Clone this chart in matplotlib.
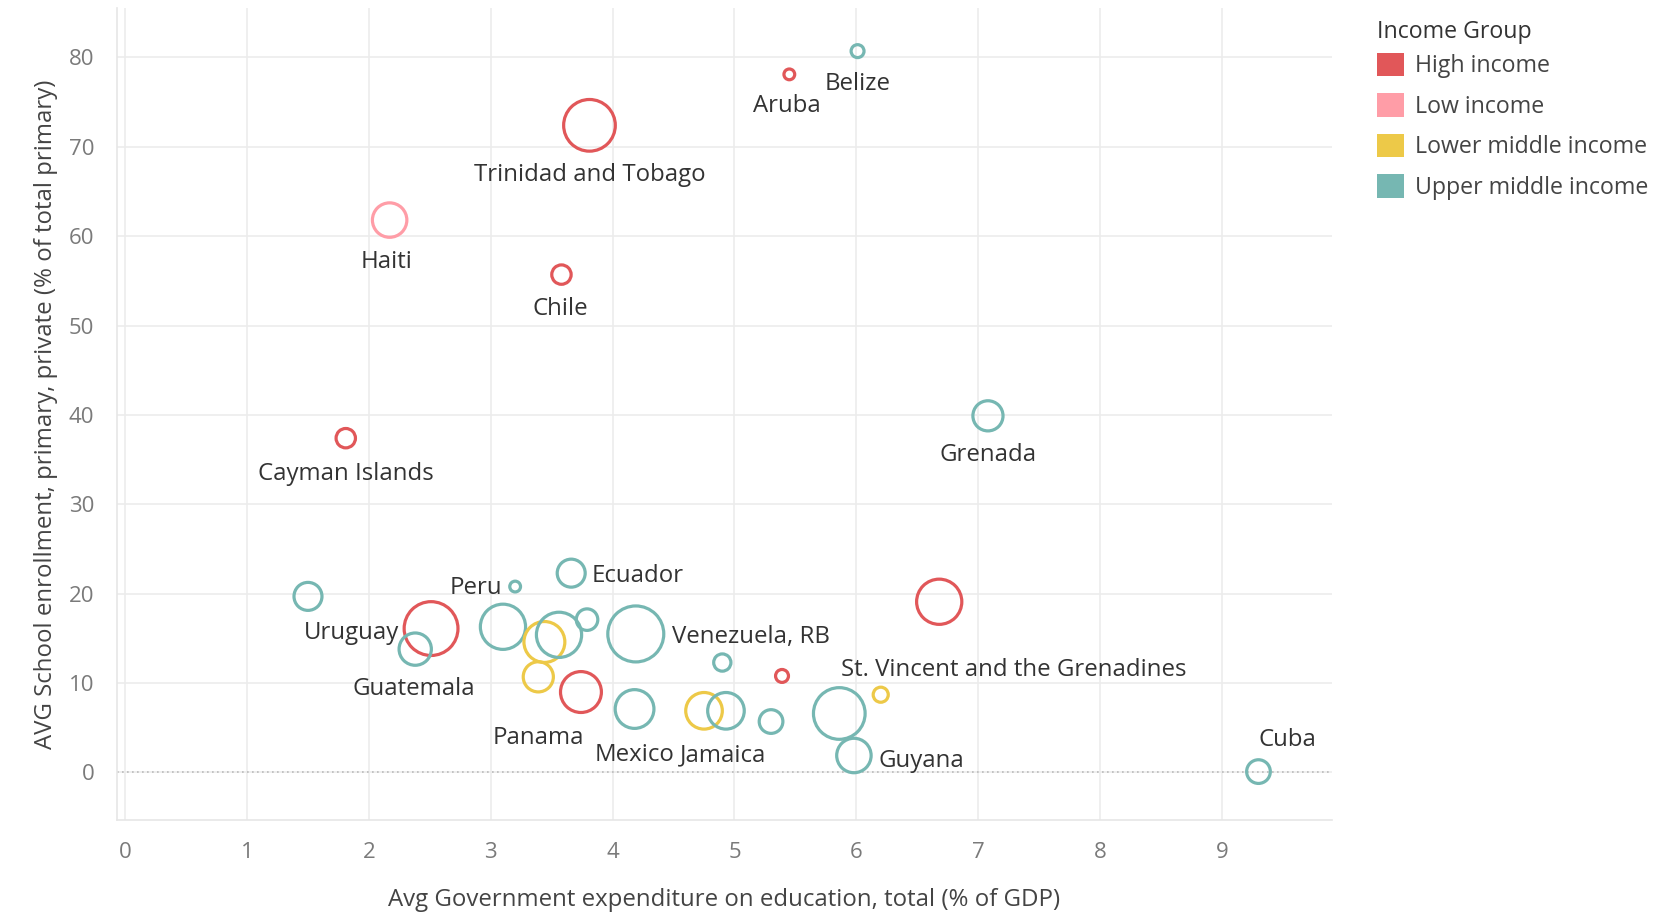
import matplotlib.pyplot as plt
from matplotlib.patches import Patch

# income groups and colours
groups = ["High income", "Low income", "Lower middle income", "Upper middle income"]
group_colors = ["#E15759", "#FF9DA7", "#EDC948", "#76B7B2"]

# one entry per country mark ("" = not labelled in the chart)
country = ["Belize", "Aruba", "Trinidad and Tobago", "Haiti", "Chile", "Grenada",
           "Cayman Islands", "Ecuador", "Peru", "", "Uruguay", "Guatemala",
           "", "", "", "", "Venezuela, RB", "", "Panama", "Mexico",
           "", "Jamaica", "", "", "", "St. Vincent and the Grenadines", "",
           "Guyana", "", "Cuba"]
expenditure = [6.01, 5.45, 3.81, 2.17, 3.58, 7.08,
               1.81, 3.66, 3.20, 1.50, 2.51, 2.38,
               3.10, 3.44, 3.56, 3.79, 4.19, 3.39, 3.74, 4.18,
               4.75, 4.93, 4.90, 5.39, 5.30, 5.86, 6.20,
               5.98, 6.68, 9.30]
enrollment = [80.7, 78.1, 72.4, 61.8, 55.7, 39.9,
              37.4, 22.3, 20.8, 19.7, 16.1, 13.8,
              16.3, 14.6, 15.4, 17.1, 15.5, 10.7, 9.0, 7.1,
              6.9, 6.9, 12.3, 10.8, 5.7, 6.6, 8.7,
              1.9, 19.1, 0.1]
income = [3, 0, 0, 1, 0, 3,
          0, 3, 3, 3, 0, 3,
          3, 2, 3, 3, 3, 2, 0, 3,
          2, 3, 3, 0, 3, 3, 2,
          3, 0, 3]
bubble = [6, 5, 24, 16, 9, 14,
          9, 13, 5, 13, 25, 15,
          21, 19, 21, 10, 26, 14, 19, 18,
          17, 17, 8, 6, 11, 24, 7,
          16, 21, 11]

# label offsets (points) and alignment
label_pos = {
    "Belize": (0, -24, "center"),
    "Aruba": (-2, -23, "center"),
    "Trinidad and Tobago": (0, -36, "center"),
    "Haiti": (-2, -30, "center"),
    "Chile": (-1, -25, "center"),
    "Grenada": (0, -28, "center"),
    "Cayman Islands": (0, -26, "center"),
    "Ecuador": (15, -2, "left"),
    "Peru": (-9, -1, "right"),
    "Uruguay": (-23, -3, "right"),
    "Guatemala": (-1, -29, "center"),
    "Venezuela, RB": (26, -2, "left"),
    "Panama": (-31, -33, "center"),
    "Mexico": (0, -33, "center"),
    "Jamaica": (-2, -32, "center"),
    "St. Vincent and the Grenadines": (1, 31, "left"),
    "Guyana": (18, -4, "left"),
    "Cuba": (21, 23, "center"),
}

plt.rcParams['font.family'] = ['Open Sans', 'DejaVu Sans']

fig = plt.figure(figsize=(16.62, 9.14), dpi=100)
ax = fig.add_axes([0.0702, 0.103, 0.731, 0.888])

colors = [group_colors[g] for g in income]
sizes = [(1.55 * b) ** 2 for b in bubble]
ax.scatter(expenditure, enrollment, s=sizes, facecolors="none",
           edgecolors=colors, linewidths=2.3, zorder=3)

for name, x, y in zip(country, expenditure, enrollment):
    if not name:
        continue
    dx, dy, ha = label_pos[name]
    ax.annotate(name, (x, y), xytext=(dx, dy), textcoords="offset points",
                ha=ha, va="center", fontsize=17.3, color="#333333", zorder=4)

ax.axhline(0, color="#bbbbbb", linestyle=(0, (1, 2)), linewidth=1.2, zorder=1)

ax.set_xlim(-0.07, 9.9)
ax.set_ylim(-5.3, 85.5)
ax.set_xticks(range(0, 10))
ax.set_yticks(range(0, 81, 10))
ax.grid(True, color="#ececec", linewidth=1.2)
ax.set_axisbelow(True)
for side in ["top", "right"]:
    ax.spines[side].set_visible(False)
for side in ["left", "bottom"]:
    ax.spines[side].set_color("#e6e6e6")
    ax.spines[side].set_linewidth(1.2)
ax.tick_params(length=0, labelsize=16, labelcolor="#7a7a7a", pad=16)

ax.set_xlabel("Avg Government expenditure on education, total (% of GDP)",
              fontsize=17.3, color="#444444", labelpad=18)
ax.set_ylabel("AVG School enrollment, primary, private (% of total primary)",
              fontsize=17.3, color="#444444", labelpad=8)

handles = [Patch(facecolor=c, edgecolor="none") for c in group_colors]
leg = fig.legend(handles, groups, title="Income Group", loc="upper left",
                 bbox_to_anchor=(0.8255, 0.983), frameon=False, fontsize=16.7,
                 title_fontsize=16.7, handlelength=1.2, handleheight=1.2,
                 handletextpad=0.45, labelspacing=0.64, borderaxespad=0,
                 borderpad=0.2)
leg._legend_box.align = "left"
leg._legend_box.sep = 6
for t in leg.get_texts():
    t.set_color("#444444")
leg.get_title().set_color("#333333")

fig.savefig("out.png", dpi=100)
